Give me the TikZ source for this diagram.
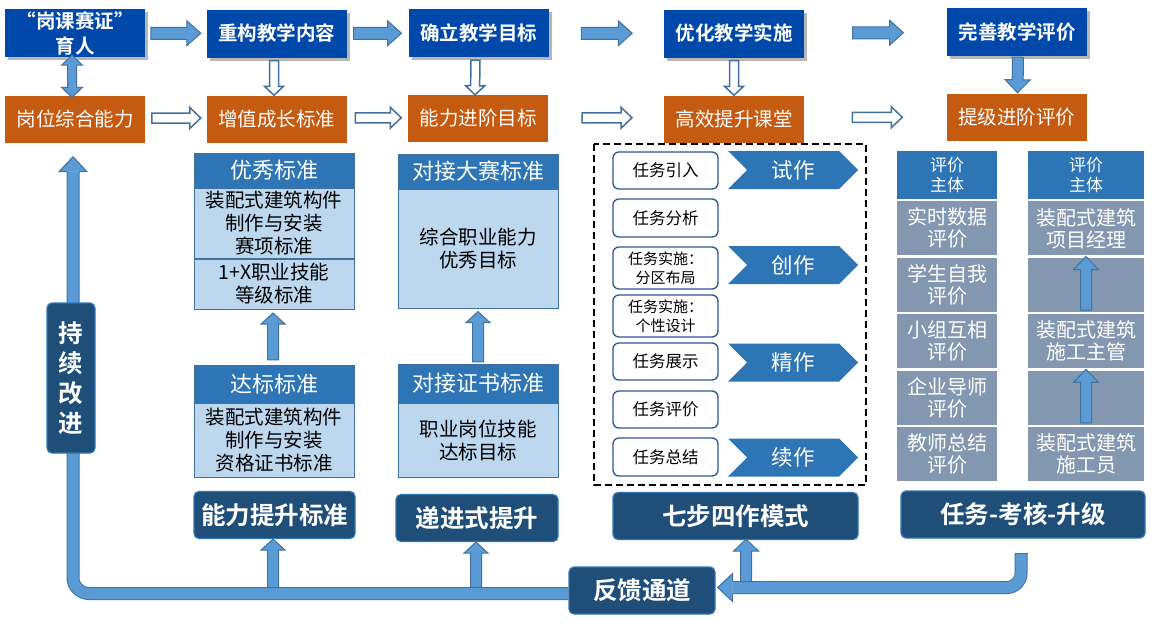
\documentclass[tikz,border=0pt]{standalone}
\usepackage{fontspec}
\setmainfont{Noto Sans CJK SC}[BoldFont={Noto Sans CJK SC Bold}]
\usepackage{tikz}
\usetikzlibrary{positioning,calc,shapes.symbols,shadows,backgrounds}
\definecolor{tcblue}{RGB}{0,72,170}
\definecolor{tcorange}{RGB}{197,90,17}
\definecolor{tcarrow}{RGB}{91,155,213}
\definecolor{tcedge}{RGB}{65,113,156}
\definecolor{tchdr}{RGB}{46,117,182}
\definecolor{tclight}{RGB}{189,215,238}
\definecolor{tcnavy}{RGB}{31,78,121}
\definecolor{tcgrey}{RGB}{132,151,176}
\definecolor{tcdark}{RGB}{47,85,151}
\tikzset{
  tctop/.style={
    rectangle, fill=tcblue, text=white, align=center,
    minimum width=140pt, minimum height=48pt, inner sep=2pt,
    font=\bfseries\fontsize{19.5}{25}\selectfont,
    drop shadow={shadow xshift=3pt, shadow yshift=-3pt, opacity=.4, fill=black!70}
  },
  tcmid/.style={
    rectangle, fill=tcorange, text=white, align=center,
    minimum width=140pt, minimum height=47pt, inner sep=2pt,
    font=\fontsize{19.5}{24}\selectfont
  },
  tchead/.style={rectangle, draw=tcedge, fill=tchdr, text=white, minimum width=160pt,
    inner sep=1pt, font=\fontsize{22}{26}\selectfont},
  tcbody/.style={rectangle, draw=tcedge, fill=tclight, align=center, minimum width=160pt,
    inner sep=1pt, font=\fontsize{19.5}{23}\selectfont},
  tctask/.style={rectangle, rounded corners=6pt, draw=tcdark, line width=1.3pt, fill=white,
    minimum width=105pt, align=center, inner sep=1pt, font=\fontsize{16.5}{19}\selectfont},
  tctwo/.style={font=\fontsize{15}{19}\selectfont},
  tcchev/.style={signal, signal from=west, signal to=east, fill=tchdr, text=white,
    minimum width=130pt, minimum height=38pt, inner sep=1pt, font=\fontsize{21.5}{24}\selectfont},
  tceval/.style={rectangle, fill=tchdr, text=white, align=center, minimum height=48pt,
    inner sep=1pt, font=\fontsize{17}{20}\selectfont},
  tcgrey/.style={rectangle, fill=tcgrey, text=white, align=center, minimum height=54pt,
    inner sep=1pt, font=\fontsize{20}{22}\selectfont},
  tcbase/.style={rectangle, rounded corners=5pt, draw=tchdr, line width=1.2pt, fill=tcnavy,
    text=white, align=center, minimum height=47pt, inner sep=1pt,
    font=\bfseries\fontsize{24.5}{30}\selectfont},
  tcframe/.style={draw=black, dash pattern=on 7pt off 4pt, line width=1.8pt},
  tcfill/.style={fill=tcarrow, draw=tcedge, line width=1pt, line join=miter},
  tchollow/.style={fill=white, draw=tcedge, line width=1.5pt, line join=miter},
  tcpipe/.style={draw=tcedge, double=tcarrow, double distance=11pt, line width=1pt},
}
% block arrow: [style]{half shaft}{half head}{head length}{tail}{tip}
\newcommand\blockarrow[6][tcfill]{%
  \draw[#1] let \p1=(#5), \p2=(#6), \p3=($(\p2)!#4!(\p1)$) in
    ($(\p1)!#2!90:(\p2)$) -- ($(\p3)!#2!90:(\p2)$) -- ($(\p3)!#3!90:(\p2)$) -- (\p2)
    -- ($(\p3)!#3!-90:(\p2)$) -- ($(\p3)!#2!-90:(\p2)$) -- ($(\p1)!#2!-90:(\p2)$) -- cycle;}
\newcommand\dblarrow[6][tcfill]{%
  \draw[#1] let \p1=(#5), \p2=(#6), \p3=($(\p1)!#4!(\p2)$), \p4=($(\p2)!#4!(\p1)$) in
    (\p1) -- ($(\p3)!#3!90:(\p2)$) -- ($(\p3)!#2!90:(\p2)$) -- ($(\p4)!#2!90:(\p2)$)
    -- ($(\p4)!#3!90:(\p2)$) -- (\p2) -- ($(\p4)!#3!-90:(\p2)$) -- ($(\p4)!#2!-90:(\p2)$)
    -- ($(\p3)!#2!-90:(\p2)$) -- ($(\p3)!#3!-90:(\p2)$) -- cycle;}

\begin{document}
\begin{tikzpicture}[x=1pt, y=-1pt]
  \useasboundingbox (0,0) rectangle (1173,632);

  \node (n1) [tctop] at (75,33) {“岗课赛证”\\育人};
  \node (n2) [tctop] at (276.5,33.5) {重构教学内容};
  \node (n3) [tctop] at (478.5,33) {确立教学目标};
  \node (n4) [tctop] at (734,33.5) {优化教学实施};
  \node (n5) [tctop] at (1017,32) {完善教学评价};

  \node (m1) [tcmid] at (75,119) {岗位综合能力};
  \node (m2) [tcmid] at (276.5,119) {增值成长标准};
  \node (m3) [tcmid] at (478,118.5) {能力进阶目标};
  \node (m4) [tcmid] at (734,119) {高效提升课堂};
  \node (m5) [tcmid] at (1016.5,117.5) {提级进阶评价};

  \node (h1) [tchead, minimum height=35pt] at (274,170.5) {优秀标准};
  \node (s1) [tcbody, minimum height=70pt, below=0pt of h1] {装配式建筑构件\\制作与安装\\赛项标准};
  \node (s2) [tcbody, minimum height=50pt, below=0pt of s1] {1+X职业技能\\等级标准};
  \node (h2) [tchead, minimum height=38pt] at (274,384) {达标标准};
  \node (s3) [tcbody, minimum height=74pt, below=0pt of h2] {装配式建筑构件\\制作与安装\\资格证书标准};

  \node (h3) [tchead, minimum height=35pt] at (478,171.5) {对接大赛标准};
  \node (s4) [tcbody, minimum height=119pt, below=0pt of h3] {综合职业能力\\优秀目标};
  \node (h4) [tchead, minimum height=39pt] at (478,383.5) {对接证书标准};
  \node (s5) [tcbody, minimum height=74pt, below=0pt of h4] {职业岗位技能\\达标目标};

  \draw[tcframe] (594,144) rectangle (866,485);
  \node (t1) [tctask, minimum height=37pt] at (665.5,170.5) {任务引入};
  \node (t2) [tctask, minimum height=38pt] at (665.5,218) {任务分析};
  \node (t3) [tctask, tctwo, minimum height=42pt] at (665.5,268) {任务实施：\\分区布局};
  \node (t4) [tctask, tctwo, minimum height=42pt] at (665.5,316) {任务实施：\\个性设计};
  \node (t5) [tctask, minimum height=37pt] at (665.5,361.5) {任务展示};
  \node (t6) [tctask, minimum height=37pt] at (665.5,409.5) {任务评价};
  \node (t7) [tctask, minimum height=38pt] at (665.5,457) {任务总结};
  \node (c1) [tcchev] at (793,170) {试作};
  \node (c2) [tcchev] at (793,265) {创作};
  \node (c3) [tcchev] at (793,362.5) {精作};
  \node (c4) [tcchev] at (793,457.5) {续作};

  \node (e0) [tceval, minimum width=100pt] at (947,175) {评价\\主体};
  \node (e1) [tcgrey, minimum width=100pt, below=2pt of e0] {实时数据\\评价};
  \node (e2) [tcgrey, minimum width=100pt, below=2pt of e1] {学生自我\\评价};
  \node (e3) [tcgrey, minimum width=100pt, below=2pt of e2] {小组互相\\评价};
  \node (e4) [tcgrey, minimum width=100pt, below=2pt of e3] {企业导师\\评价};
  \node (e5) [tcgrey, minimum width=100pt, below=2pt of e4] {教师总结\\评价};
  \node (g0) [tceval, minimum width=116pt] at (1086,175) {评价\\主体};
  \node (g1) [tcgrey, minimum width=116pt, below=2pt of g0] {装配式建筑\\项目经理};
  \node (g2) [tcgrey, minimum width=116pt, below=2pt of g1] {};
  \node (g3) [tcgrey, minimum width=116pt, below=2pt of g2] {装配式建筑\\施工主管};
  \node (g4) [tcgrey, minimum width=116pt, below=2pt of g3] {};
  \node (g5) [tcgrey, minimum width=116pt, below=2pt of g4] {装配式建筑\\施工员};

  \node (b1) [tcbase, minimum width=161pt] at (274.5,515) {能力提升标准};
  \node (b2) [tcbase, minimum width=162pt] at (477,518) {递进式提升};
  \node (b3) [tcbase, minimum width=245pt] at (735.5,516) {七步四作模式};
  \node (b4) [tcbase, minimum width=244pt] at (1023,514.5) {任务-考核-升级};
  \node (fb) [tcbase, minimum width=146pt] at (642,590.5) {反馈通道};
  \node (kc) [tcbase, minimum width=48pt, minimum height=150pt] at (71,378) {持\\续\\改\\进};

  \begin{scope}[on background layer]
    \fill[white] (0,0) rectangle (1173,632);
    \draw[tcpipe, rounded corners=16pt] ($(fb.west)+(0,3)$) -| ($(m1.south)+(-2,29)$);
    \draw[tcpipe, rounded corners=14pt] ($(b4.south)+(-2,15)$) |- ($(fb.east)+(17,-3)$);
    \draw[tcedge, line width=1pt] ($(b4.south)+(-8.5,15)$) -- ($(b4.south)+(4.5,15)$);
    \coordinate (lt) at ($(m1.south)+(-2,14)$);
    \filldraw[tcfill] ($(lt)+(-6,15)$) -- ($(lt)+(-14,15)$) -- (lt) -- ($(lt)+(14,15)$) -- ($(lt)+(6,15)$);
    \coordinate (rt) at ($(fb.east)+(2,-3)$);
    \filldraw[tcfill] ($(rt)+(15,-6)$) -- ($(rt)+(15,-14)$) -- (rt) -- ($(rt)+(15,14)$) -- ($(rt)+(15,6)$);
  \end{scope}

  \blockarrow{6pt}{12.5pt}{14pt}{$(n1.east)!.5!(n2.west)+(-25,0)$}{$(n1.east)!.5!(n2.west)+(25,0)$}
  \blockarrow{6pt}{12.5pt}{14pt}{$(n2.east)!.5!(n3.west)+(-24,0)$}{$(n2.east)!.5!(n3.west)+(24,0)$}
  \blockarrow{6pt}{12.5pt}{14pt}{$(n3.east)!.5!(n4.west)+(-25,0)$}{$(n3.east)!.5!(n4.west)+(26,0)$}
  \blockarrow{6pt}{12.5pt}{14pt}{$(n4.east)!.5!(n5.west)+(-23,0)$}{$(n4.east)!.5!(n5.west)+(28,0)$}
  \blockarrow[tchollow]{5pt}{10.5pt}{11pt}{$(m1.east)!.5!(m2.west)+(-24,-1)$}{$(m1.east)!.5!(m2.west)+(25,-1)$}
  \blockarrow[tchollow]{5pt}{10.5pt}{11pt}{$(m2.east)!.5!(m3.west)+(-22,-1)$}{$(m2.east)!.5!(m3.west)+(24,-1)$}
  \blockarrow[tchollow]{5pt}{10.5pt}{11pt}{$(m3.east)!.5!(m4.west)+(-24,-1)$}{$(m3.east)!.5!(m4.west)+(26,-1)$}
  \blockarrow[tchollow]{5pt}{10.5pt}{11pt}{$(m4.east)!.5!(m5.west)+(-23,-1)$}{$(m4.east)!.5!(m5.west)+(27,-1)$}
  \dblarrow{4.5pt}{10.5pt}{10pt}{$(n1.south)+(-3,-2)$}{$(m1.north)+(-3,2)$}
  \blockarrow[tchollow]{4.5pt}{9.5pt}{9pt}{$(n2.south)+(-2.5,3)$}{$(m2.north)+(-2.5,0)$}
  \blockarrow[tchollow]{4.5pt}{9.5pt}{9pt}{$(n3.south)+(-3,3)$}{$(m3.north)+(-3,0)$}
  \blockarrow[tchollow]{4.5pt}{9.5pt}{9pt}{$(n4.south)+(0,3)$}{$(m4.north)+(0,0)$}
  \blockarrow{5.5pt}{12.5pt}{13pt}{$(n5.south)+(1,1)$}{$(m5.north)+(1,-1)$}

  \blockarrow{5.5pt}{12pt}{11pt}{$(h2.north)+(-1,-5)$}{$(s2.south)+(-1,4)$}
  \blockarrow{5.5pt}{12pt}{11pt}{$(h4.north)+(0,-2)$}{$(s4.south)+(0,3)$}
  \blockarrow{5.5pt}{12.5pt}{13pt}{$(g3.north)+(0,-4)$}{$(g1.south)+(0,1)$}
  \blockarrow{5.5pt}{12.5pt}{13pt}{$(g5.north)+(0,-4)$}{$(g3.south)+(0,1)$}

  \blockarrow{5.5pt}{12pt}{11pt}{$(b1.south)+(-1.5,48.5)$}{$(b1.south)+(-1.5,0)$}
  \blockarrow{5.5pt}{12pt}{11pt}{$(b2.south)+(-1,45)$}{$(b2.south)+(-1,0)$}
  \blockarrow{5.5pt}{12.5pt}{12pt}{$(b3.south)+(10.5,41.5)$}{$(b3.south)+(10.5,-1)$}
\end{tikzpicture}
\end{document}
